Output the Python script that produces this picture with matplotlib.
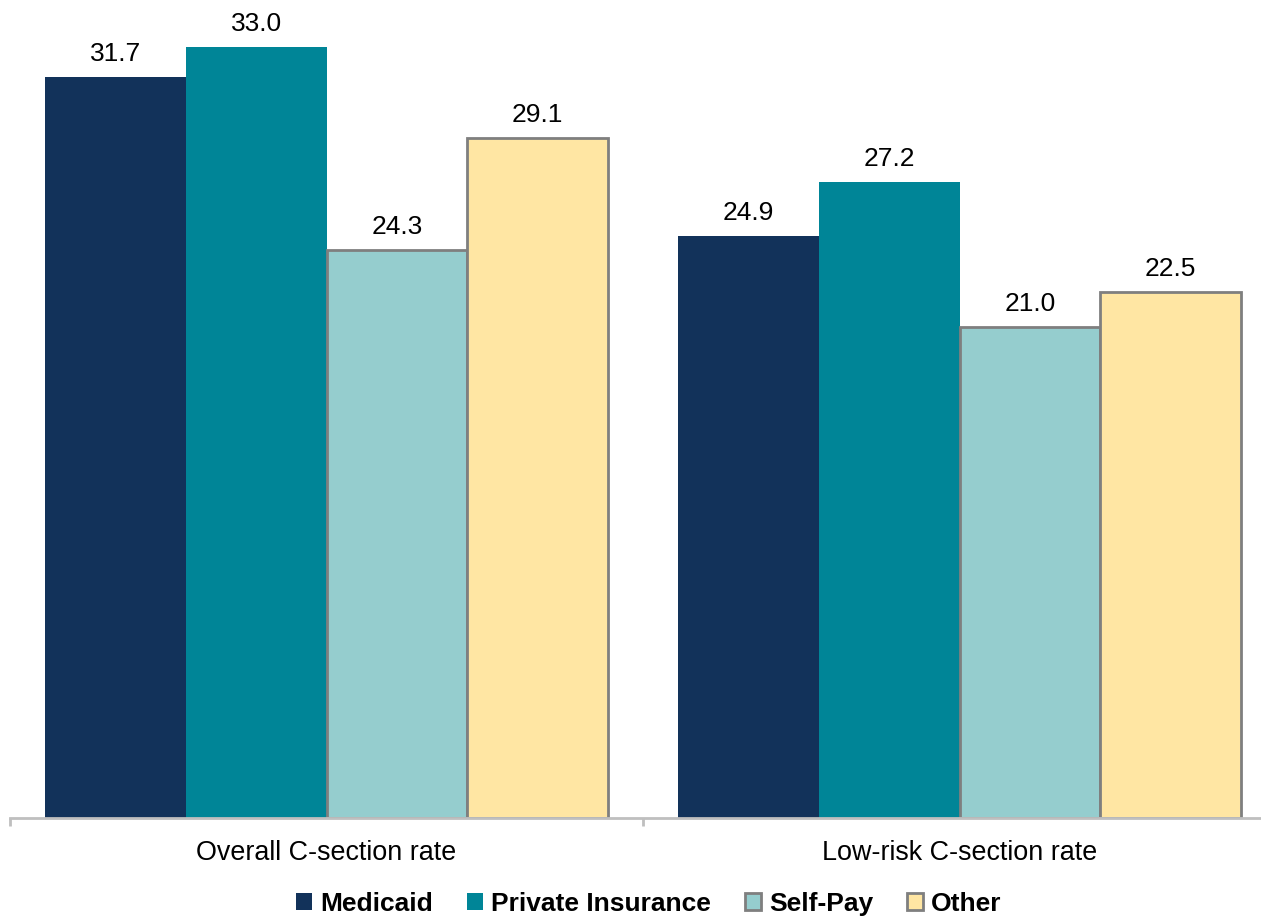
import numpy as np
import matplotlib.pyplot as plt
from matplotlib.patches import Patch

plt.rcParams['font.family'] = ['Liberation Sans', 'DejaVu Sans']

categories = ['Overall C-section rate', 'Low-risk C-section rate']
payers = ['Medicaid', 'Private Insurance', 'Self-Pay', 'Other']
medicaid = [31.7, 24.9]
private = [33.0, 27.2]
selfpay = [24.3, 21.0]
other = [29.1, 22.5]

colors = ['#12325a', '#008597', '#95cdce', '#ffe6a3']
edges = ['none', 'none', '#7f7f7f', '#7f7f7f']

fig = plt.figure(figsize=(12.61, 9.18), dpi=100)
# the axis runs a little past the right edge of the picture
ax = fig.add_axes([10/1261, 1 - 818/918, 1266/1261, 818/918])

x = np.arange(len(categories)) + 0.5
w = 0.222
series = [medicaid, private, selfpay, other]
for i, vals in enumerate(series):
    pos = x + (i - 1.5) * w
    bars = ax.bar(pos, vals, width=w, color=colors[i], edgecolor=edges[i],
                  linewidth=2 if edges[i] != 'none' else 0, zorder=2)
    for b, v in zip(bars, vals):
        ax.annotate('%.1f' % v, (b.get_x() + b.get_width()/2, v),
                    xytext=(0, 8), textcoords='offset points',
                    ha='center', va='bottom', fontsize=19, color='#000000')

ax.set_xlim(0, 2)
ax.set_ylim(0, 35)
for s in ['left', 'right', 'top']:
    ax.spines[s].set_visible(False)
ax.spines['bottom'].set_color('#bfbfbf')
ax.spines['bottom'].set_linewidth(2)
ax.set_yticks([])
ax.set_xticks([0, 1, 2])
ax.set_xticklabels([])
ax.tick_params(axis='x', which='major', length=6, width=2, color='#bfbfbf', direction='out')
ax.set_xticks(x, minor=True)
ax.set_xticklabels(categories, minor=True, fontsize=19.4)
ax.tick_params(axis='x', which='minor', length=0, pad=16)

handles = [Patch(facecolor=colors[i], edgecolor=edges[i] if edges[i] != 'none' else colors[i],
                 linewidth=2 if edges[i] != 'none' else 0) for i in range(4)]
leg = fig.legend(handles, payers, loc='center', bbox_to_anchor=(0.5147, 1 - 904/918),
                 ncol=4, frameon=False, handlelength=0.6, handleheight=0.6,
                 handletextpad=0.3, columnspacing=1.3,
                 prop={'weight': 'bold', 'size': 19})

plt.savefig('out.png', dpi=100)
